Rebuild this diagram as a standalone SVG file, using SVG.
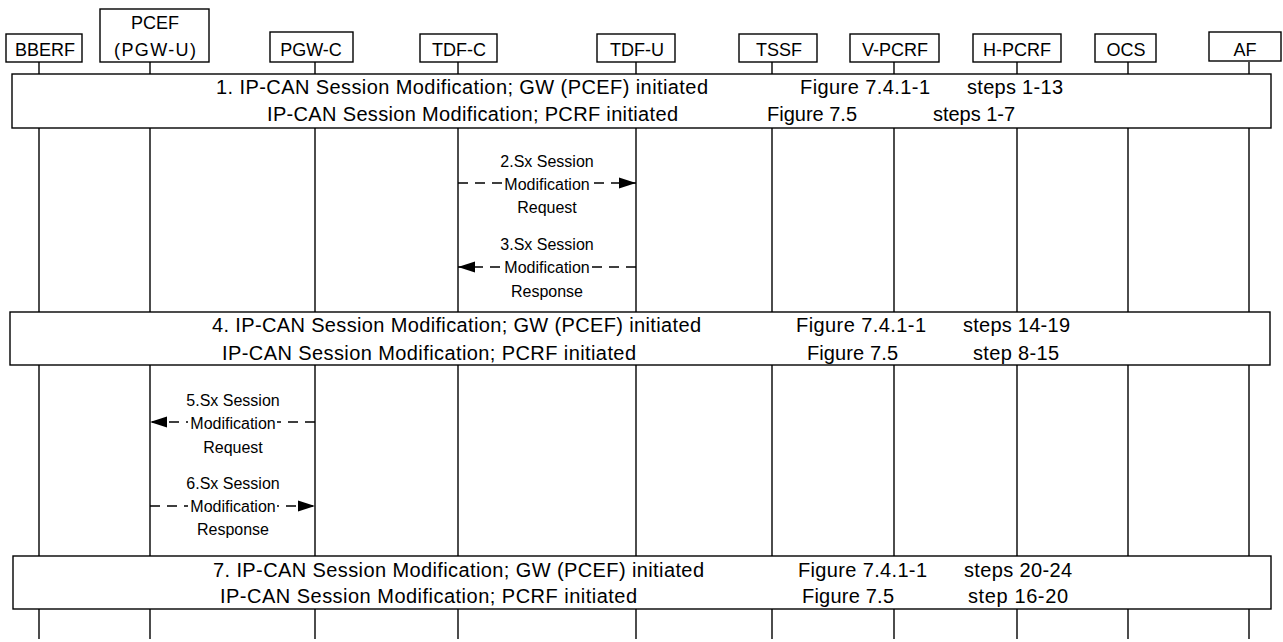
<svg xmlns="http://www.w3.org/2000/svg" width="1283" height="642" viewBox="0 0 1283 642">
<style>
.box{fill:#fff;stroke:#000;stroke-width:1.4}
.life{stroke:#000;stroke-width:1.4;fill:none}
.nl{font-family:"Liberation Sans",Arial,sans-serif;font-size:18px;fill:#000;text-anchor:middle}
.bt{font-family:"Liberation Sans",Arial,sans-serif;font-size:20px;fill:#000}
.ml{font-family:"Liberation Sans",Arial,sans-serif;font-size:16px;fill:#000;text-anchor:middle}
.msg{stroke:#000;stroke-width:1.4;stroke-dasharray:10 7;fill:none}
.bg{fill:#fff;stroke:none}
</style>
<defs>
<marker id="ah" markerUnits="userSpaceOnUse" markerWidth="18" markerHeight="12" refX="17" refY="6" orient="auto">
<path d="M0,0.5 L17,6 L0,11.5 Z" fill="#000"/>
</marker>
</defs>
<rect width="1283" height="642" fill="#fff"/>
<g id="lifelines">
<line class="life" x1="39" y1="62" x2="39" y2="639"/>
<line class="life" x1="150" y1="62" x2="150" y2="639"/>
<line class="life" x1="315" y1="62" x2="315" y2="639"/>
<line class="life" x1="458" y1="62" x2="458" y2="639"/>
<line class="life" x1="636" y1="62" x2="636" y2="639"/>
<line class="life" x1="772" y1="62" x2="772" y2="639"/>
<line class="life" x1="894" y1="62" x2="894" y2="639"/>
<line class="life" x1="1017" y1="62" x2="1017" y2="639"/>
<line class="life" x1="1128" y1="62" x2="1128" y2="639"/>
<line class="life" x1="1249" y1="62" x2="1249" y2="639"/>
</g>
<g id="n-bberf"><rect class="box" x="6" y="34" width="76" height="28"/><text class="nl" x="45" y="56">BBERF</text></g>
<g id="n-pcef"><rect class="box" x="100" y="9" width="109" height="53"/><text class="nl" x="155" y="29">PCEF</text><text class="nl" x="155" y="56" textLength="82" lengthAdjust="spacing">(PGW-U)</text></g>
<g id="n-pgwc"><rect class="box" x="270" y="32" width="83" height="30"/><text class="nl" x="311" y="56">PGW-C</text></g>
<g id="n-tdfc"><rect class="box" x="420" y="34" width="77" height="28"/><text class="nl" x="459" y="56">TDF-C</text></g>
<g id="n-tdfu"><rect class="box" x="597" y="34" width="78" height="28"/><text class="nl" x="637" y="56">TDF-U</text></g>
<g id="n-tssf"><rect class="box" x="739" y="34" width="78" height="28"/><text class="nl" x="779" y="56">TSSF</text></g>
<g id="n-vpcrf"><rect class="box" x="850" y="34" width="89" height="28"/><text class="nl" x="895" y="56">V-PCRF</text></g>
<g id="n-hpcrf"><rect class="box" x="973" y="34" width="88" height="28"/><text class="nl" x="1017" y="56">H-PCRF</text></g>
<g id="n-ocs"><rect class="box" x="1095" y="34" width="61" height="28"/><text class="nl" x="1126" y="56">OCS</text></g>
<g id="n-af"><rect class="box" x="1209" y="32" width="72" height="29"/><text class="nl" x="1245" y="56">AF</text></g>
<g id="step1">
<rect class="box" x="12" y="74" width="1259" height="54"/>
<text class="bt" x="216" y="94" textLength="492" lengthAdjust="spacing">1. IP-CAN Session Modification; GW (PCEF) initiated</text>
<text class="bt" x="800" y="94" textLength="130" lengthAdjust="spacing">Figure 7.4.1-1</text>
<text class="bt" x="967" y="94" textLength="96" lengthAdjust="spacing">steps 1-13</text>
<text class="bt" x="267" y="121" textLength="411" lengthAdjust="spacing">IP-CAN Session Modification; PCRF initiated</text>
<text class="bt" x="767" y="121" textLength="90" lengthAdjust="spacing">Figure 7.5</text>
<text class="bt" x="933" y="121" textLength="82" lengthAdjust="spacing">steps 1-7</text>
</g>
<g id="step4">
<rect class="box" x="10" y="312" width="1260" height="53"/>
<text class="bt" x="212" y="332" textLength="489" lengthAdjust="spacing">4. IP-CAN Session Modification; GW (PCEF) initiated</text>
<text class="bt" x="796" y="332" textLength="130" lengthAdjust="spacing">Figure 7.4.1-1</text>
<text class="bt" x="963" y="332" textLength="107" lengthAdjust="spacing">steps 14-19</text>
<text class="bt" x="222" y="360" textLength="414" lengthAdjust="spacing">IP-CAN Session Modification; PCRF initiated</text>
<text class="bt" x="807" y="360" textLength="91" lengthAdjust="spacing">Figure 7.5</text>
<text class="bt" x="973" y="360" textLength="86" lengthAdjust="spacing">step 8-15</text>
</g>
<g id="step7">
<rect class="box" x="13" y="556" width="1258" height="53"/>
<text class="bt" x="213" y="577" textLength="491" lengthAdjust="spacing">7. IP-CAN Session Modification; GW (PCEF) initiated</text>
<text class="bt" x="798" y="577" textLength="129" lengthAdjust="spacing">Figure 7.4.1-1</text>
<text class="bt" x="964" y="577" textLength="108" lengthAdjust="spacing">steps 20-24</text>
<text class="bt" x="220" y="603" textLength="417" lengthAdjust="spacing">IP-CAN Session Modification; PCRF initiated</text>
<text class="bt" x="802" y="603" textLength="92" lengthAdjust="spacing">Figure 7.5</text>
<text class="bt" x="968" y="603" textLength="100" lengthAdjust="spacing">step 16-20</text>
</g>
<g id="connectors">
<g id="m2">
<line class="msg" x1="458" y1="183" x2="636" y2="183" marker-end="url(#ah)"/>
<rect class="bg" x="503" y="175" width="89" height="16"/>
<text class="ml" x="547" y="167">2.Sx Session</text>
<text class="ml" x="547" y="190">Modification</text>
<text class="ml" x="547" y="213">Request</text>
</g>
<g id="m3">
<line class="msg" x1="636" y1="267" x2="458" y2="267" marker-end="url(#ah)"/>
<rect class="bg" x="503" y="259" width="89" height="16"/>
<text class="ml" x="547" y="250">3.Sx Session</text>
<text class="ml" x="547" y="273">Modification</text>
<text class="ml" x="547" y="297">Response</text>
</g>
<g id="m5">
<line class="msg" x1="315" y1="422" x2="150" y2="422" marker-end="url(#ah)"/>
<rect class="bg" x="188" y="414" width="89" height="16"/>
<text class="ml" x="233" y="406">5.Sx Session</text>
<text class="ml" x="233" y="429">Modification</text>
<text class="ml" x="233" y="453">Request</text>
</g>
<g id="m6">
<line class="msg" x1="150" y1="506" x2="315" y2="506" marker-end="url(#ah)"/>
<rect class="bg" x="188" y="498" width="89" height="16"/>
<text class="ml" x="233" y="489">6.Sx Session</text>
<text class="ml" x="233" y="512">Modification</text>
<text class="ml" x="233" y="535">Response</text>
</g>
</g>
</svg>
